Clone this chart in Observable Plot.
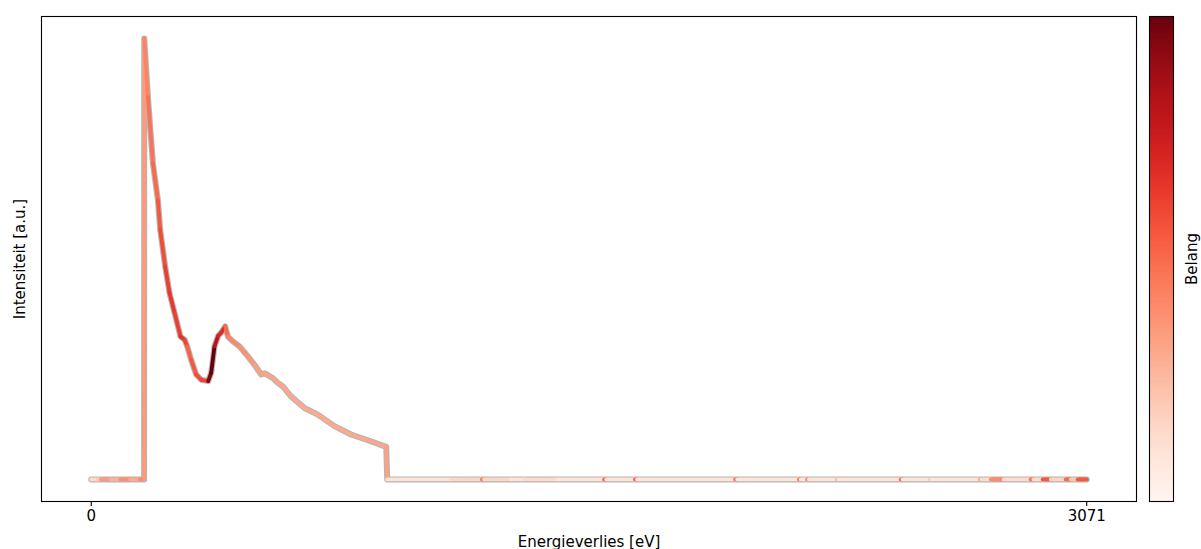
<!DOCTYPE html>
<html>
<head>
<meta charset="utf-8">
<script src="https://cdn.jsdelivr.net/npm/d3@7"></script>
<script src="https://cdn.jsdelivr.net/npm/@observablehq/plot@0.6"></script>
<style>
  html, body { margin: 0; padding: 0; background: #fff; }
  #chart { position: relative; width: 1201px; height: 549px; overflow: hidden; }
  #chart svg { position: absolute; top: 0; font-family: "DejaVu Sans", sans-serif; }
</style>
</head>
<body>
<div id="chart"></div>
<script>
// Spectrum samples: energy loss (eV), normalised intensity, and the importance
// ("belang") of the segment that starts at each sample.
const energy = [
  0, 20, 30, 60, 90, 120, 150, 163,
  163.5, 174.8, 190.2, 205.6, 212.7, 228.2, 241.4, 256.8, 275.3, 287.7, 296,
  308.3, 323.7, 339.2, 360.7, 370, 380.2, 391.6, 400.8, 413.2, 421.5, 436.9,
  457.2, 483.1, 503.5, 524.2, 534.3, 560.2, 575.6, 591.1, 616.7, 657.7, 699,
  750.2, 801.6, 853.2, 910,
  913, 1110, 1205, 1212, 1295, 1335, 1440, 1582, 1589, 1677, 1684, 1986, 1993,
  2183, 2189, 2208, 2214, 2300, 2306, 2497, 2503, 2587, 2593, 2741, 2747,
  2775, 2815, 2898, 2907, 2935, 2960, 3006, 3022, 3043, 3071
];
const intensity = [
  0, 0, 0, 0, 0, 0, 0, 0,
  1.0, 0.867, 0.717, 0.633, 0.566, 0.482, 0.423, 0.378, 0.324, 0.317, 0.302,
  0.271, 0.238, 0.226, 0.223, 0.242, 0.302, 0.326, 0.333, 0.347, 0.324, 0.313,
  0.302, 0.279, 0.260, 0.238, 0.241, 0.230, 0.219, 0.211, 0.188, 0.162, 0.147,
  0.121, 0.102, 0.089, 0.074,
  0, 0, 0, 0, 0, 0, 0, 0, 0, 0, 0, 0, 0,
  0, 0, 0, 0, 0, 0, 0, 0, 0, 0, 0, 0,
  0, 0, 0, 0, 0, 0, 0, 0, 0, 0
];
const importance = [
  0.14, 0.2, 0.35, 0.28, 0.38, 0.3, 0.4, 0.35,
  0.42, 0.47, 0.5, 0.55, 0.58, 0.62, 0.64, 0.62, 0.66, 0.6, 0.52,
  0.55, 0.58, 0.6, 0.95, 1.0, 0.8, 0.7, 0.68, 0.5, 0.42, 0.4,
  0.38, 0.36, 0.34, 0.33, 0.32, 0.32, 0.31, 0.31, 0.3, 0.3, 0.3,
  0.3, 0.3, 0.31, 0.33,
  0.1, 0.16, 0.45, 0.16, 0.1, 0.14, 0.09, 0.5, 0.09, 0.5, 0.09, 0.45, 0.09,
  0.45, 0.09, 0.4, 0.09, 0.25, 0.09, 0.5, 0.09, 0.2, 0.09, 0.3, 0.12,
  0.4, 0.13, 0.45, 0.13, 0.55, 0.16, 0.5, 0.2, 0.55, 0.55
];
const xTicks = [0, 3071];

const points = energy.map((e, i) => ({e, v: intensity[i], b: importance[i]}));
const segments = d3.pairs(points).map(([p, q]) => ({x1: p.e, y1: p.v, x2: q.e, y2: q.v, b: p.b}));

const font = "DejaVu Sans";
const fs = 15;

const main = Plot.plot({
  width: 1201,
  height: 549,
  marginLeft: 41,
  marginRight: 65,
  marginTop: 16,
  marginBottom: 48,
  style: {fontFamily: font, fontSize: fs + "px", background: "transparent"},
  x: {domain: [-153.55, 3224.55], axis: null},
  y: {domain: [-0.05, 1.05], axis: null},
  color: {type: "linear", scheme: "reds", domain: [0, 1]},
  marks: [
    Plot.line(points, {x: "e", y: "v", stroke: "#a8a8a8", strokeOpacity: 0.85, strokeWidth: 6, strokeLinejoin: "round", strokeLinecap: "round"}),
    Plot.link(segments, {x1: "x1", y1: "y1", x2: "x2", y2: "y2", stroke: "b", strokeWidth: 3.8, strokeLinecap: "round"}),
    Plot.frame({stroke: "black", strokeWidth: 1.1}),
    Plot.axisX({ticks: xTicks, tickFormat: d => String(d), tickSize: 5, tickPadding: 4, fontSize: fs, label: null, stroke: "black", strokeWidth: 1.1}),
    Plot.text(["Energieverlies [eV]"], {frameAnchor: "bottom", dy: 45, fontSize: fs, fill: "black"}),
    Plot.text(["Intensiteit [a.u.]"], {frameAnchor: "left", dx: -21, rotate: -90, textAnchor: "middle", fontSize: fs, fill: "black"})
  ]
});
main.style.left = "0px";

// Colour bar for the importance scale
const bands = d3.range(0, 1, 0.004);
const bar = Plot.plot({
  width: 61,
  height: 549,
  marginLeft: 9,
  marginRight: 28,
  marginTop: 16,
  marginBottom: 48,
  style: {fontFamily: font, fontSize: fs + "px", background: "transparent"},
  x: {domain: [0, 1], axis: null},
  y: {domain: [0, 1], axis: null},
  color: {type: "linear", scheme: "reds", domain: [0, 1]},
  marks: [
    Plot.rect(bands, {x1: 0, x2: 1, y1: d => d, y2: d => Math.min(1, d + 0.0045), fill: d => d, shapeRendering: "crispEdges"}),
    Plot.frame({stroke: "black", strokeWidth: 1.1}),
    Plot.text(["Belang"], {frameAnchor: "right", dx: 19, rotate: -90, textAnchor: "middle", fontSize: fs, fill: "black"})
  ]
});
bar.style.left = "1140px";

const chart = document.getElementById("chart");
chart.append(main, bar);
</script>
</body>
</html>
